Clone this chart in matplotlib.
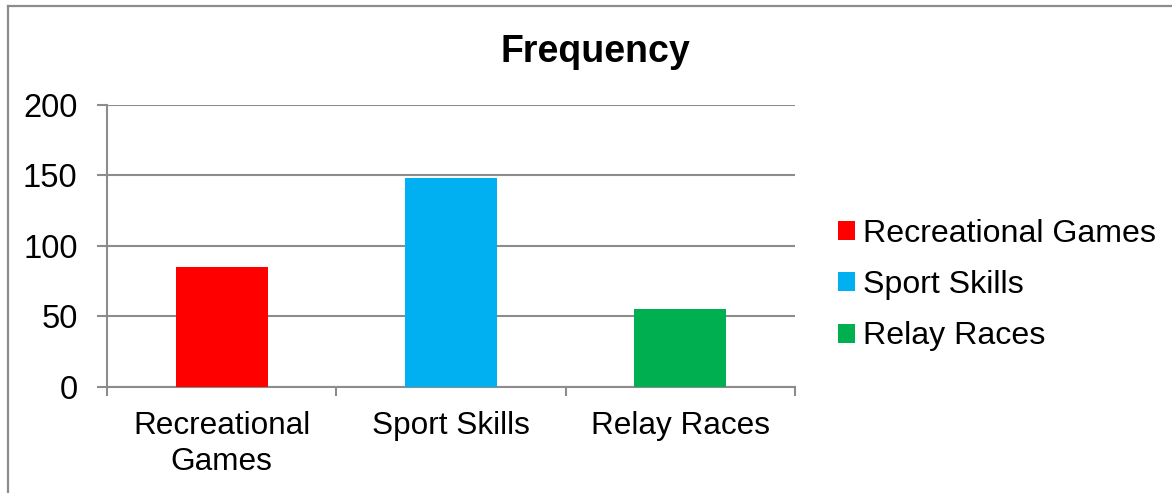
import matplotlib
matplotlib.use("Agg")
import matplotlib.pyplot as plt
from matplotlib.patches import Patch
from matplotlib.lines import Line2D

categories = ["Recreational Games", "Sport Skills", "Relay Races"]
tick_labels = ["Recreational\nGames", "Sport Skills", "Relay Races"]
frequency = [85, 148, 55]
bar_colors = ["#FF0000", "#00B0F0", "#00B050"]
y_ticks = [0, 50, 100, 150, 200]
title = "Frequency"

plt.rcParams["font.family"] = ["Liberation Sans", "DejaVu Sans"]
grey = "#8C8C8C"
fs = 22.7

fig = plt.figure(figsize=(11.72, 4.93), dpi=100)
fig.patch.set_facecolor("white")

# outer chart frame (only top and left edges fall inside the canvas)
fig.add_artist(Line2D([8 / 1172, 8 / 1172], [1 - 6 / 493, 0], transform=fig.transFigure,
                      color=grey, lw=1.6))
fig.add_artist(Line2D([8 / 1172, 1], [1 - 6 / 493, 1 - 6 / 493], transform=fig.transFigure,
                      color=grey, lw=1.6))

ax = fig.add_axes([107 / 1172, 1 - 386.7 / 493, (795 - 107) / 1172, (386.7 - 105) / 493])
x = list(range(len(categories)))
ax.bar(x, frequency, width=0.4, color=bar_colors, zorder=3)

ax.set_xlim(-0.5, len(categories) - 0.5)
ax.set_ylim(0, 200)
ax.set_yticks(y_ticks)
ax.yaxis.grid(True, color=grey, lw=1.5, zorder=0)
ax.set_axisbelow(True)

for s in ["top", "right"]:
    ax.spines[s].set_visible(False)
for s in ["left", "bottom"]:
    ax.spines[s].set_color(grey)
    ax.spines[s].set_linewidth(1.5)

ax.tick_params(axis="y", direction="out", length=7.2, width=1.5, color=grey,
               labelsize=23.5, pad=14)
# category boundary ticks (unlabelled) and centred labels
ax.set_xticks([i - 0.5 for i in range(len(categories) + 1)])
ax.set_xticklabels([])
ax.set_xticks(x, minor=True)
ax.set_xticklabels(tick_labels, minor=True, fontsize=fs, linespacing=1.25)
ax.tick_params(axis="x", which="major", direction="out", length=6.5, width=1.5, color=grey)
ax.tick_params(axis="x", which="minor", length=0, pad=17.5)

fig.text(595 / 1172, 1 - 62 / 493, title, fontsize=27, fontweight="bold",
         ha="center", va="baseline")

handles = [Patch(facecolor=c, edgecolor="none") for c in bar_colors]
fig.legend(handles, categories, loc="center left",
           bbox_to_anchor=(838 / 1172, 1 - 285 / 493), frameon=False,
           fontsize=23.1, handlelength=0.54, handleheight=0.54,
           handletextpad=0.25, labelspacing=0.67, borderaxespad=0, borderpad=0)

fig.savefig("out.png", dpi=100, facecolor="white")
